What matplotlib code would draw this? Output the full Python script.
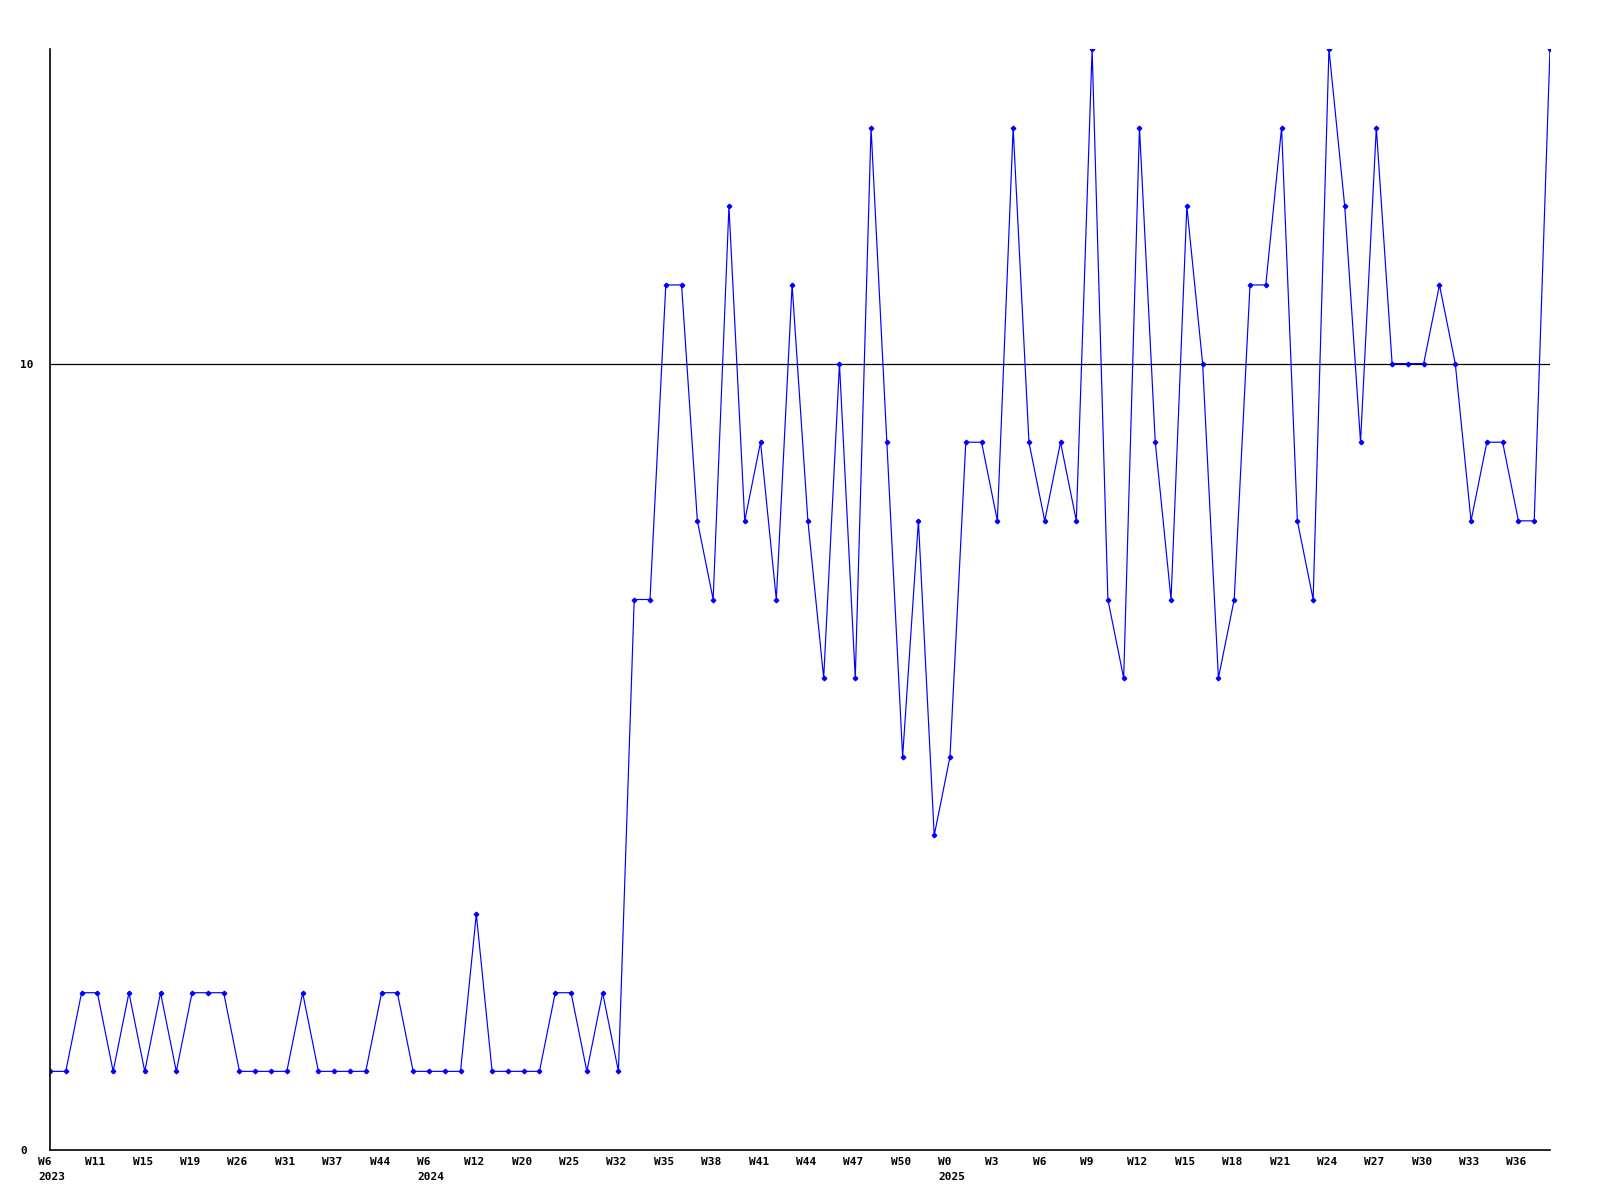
import matplotlib
matplotlib.use("Agg")
import matplotlib.pyplot as plt
import matplotlib.transforms as mtransforms

# weekly counts, one per point
values = [1, 1, 2, 2, 1, 2, 1, 2, 1, 2, 2, 2, 1, 1, 1, 1, 2, 1, 1, 1,
          1, 2, 2, 1, 1, 1, 1, 3, 1, 1, 1, 1, 2, 2, 1, 2, 1, 7, 7, 11,
          11, 8, 7, 12, 8, 9, 7, 11, 8, 6, 10, 6, 13, 9, 5, 8, 4, 5, 9, 9,
          8, 13, 9, 8, 9, 8, 14, 7, 6, 13, 9, 7, 12, 10, 6, 7, 11, 11, 13, 8,
          7, 14, 12, 9, 13, 10, 10, 10, 11, 10, 8, 9, 9, 8, 8, 14]

week_labels = ["W6\n2023", "W11", "W15", "W19", "W26", "W31", "W37", "W44",
               "W6\n2024", "W12", "W20", "W25", "W32", "W35", "W38", "W41",
               "W44", "W47", "W50", "W0\n2025", "W3", "W6", "W9", "W12",
               "W15", "W18", "W21", "W24", "W27", "W30", "W33", "W36"]
label_step = 3

y_ticks = [0, 10]
threshold = 10


def main():
    fig = plt.figure(figsize=(16, 12), dpi=100)
    ax = fig.add_axes([50 / 1600, 50 / 1200, 1500 / 1600, 1101 / 1200])

    x = list(range(len(values)))
    ax.axhline(threshold, color="black", lw=0.9, zorder=1)
    ax.plot(x, values, color="#0000ff", lw=0.85, marker="D", ms=2.3,
            mfc="#0000ff", mec="#0000ff", zorder=2)

    ax.set_xlim(0, len(values) - 1)
    ax.set_ylim(0, 14)

    for side in ["top", "right"]:
        ax.spines[side].set_visible(False)
    for side in ["left", "bottom"]:
        ax.spines[side].set_color("black")
        ax.spines[side].set_linewidth(1.2)

    font = dict(family="DejaVu Sans Mono", weight="bold", size=8)

    ax.set_xticks([i * label_step for i in range(len(week_labels))])
    ax.set_xticklabels(week_labels, ha="left", linespacing=1.6, **font)
    ax.tick_params(axis="x", length=0, pad=5)
    shift = mtransforms.ScaledTranslation(-12 / 100, 0, fig.dpi_scale_trans)
    for lab in ax.get_xticklabels():
        lab.set_transform(lab.get_transform() + shift)

    ax.set_yticks(y_ticks)
    ax.set_yticklabels([str(v) for v in y_ticks], ha="left", **font)
    ax.tick_params(axis="y", length=0, pad=21.6)

    fig.savefig("out.png", dpi=100, facecolor="white")


if __name__ == "__main__":
    main()
